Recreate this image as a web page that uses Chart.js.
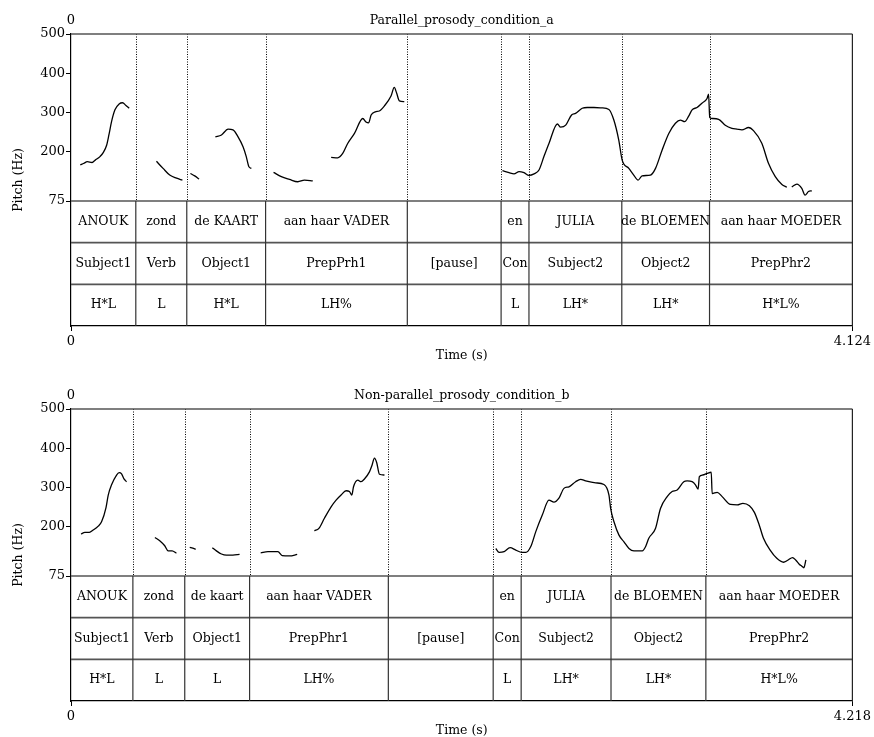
<!DOCTYPE html>
<html>
<head>
<meta charset="utf-8">
<script src="https://cdn.jsdelivr.net/npm/chart.js@4/dist/chart.umd.min.js"></script>
<style>
  html, body { margin: 0; padding: 0; background: #fff; overflow: hidden; }
  .panel { position: absolute; left: 0; width: 874px; height: 375px; }
  #panelA { top: 0; }
  #panelB { top: 375px; }
</style>
</head>
<body>
<div class="panel" id="panelA"><canvas id="chartA" width="874" height="375"></canvas></div>
<div class="panel" id="panelB"><canvas id="chartB" width="874" height="375"></canvas></div>
<script>
/* =========================================================
   DATA
========================================================= */
const PITCH_MIN = 75;
const PITCH_MAX = 500;
const PITCH_TICKS = [75, 200, 300, 400, 500];

// ---- condition a ----
const titleA = "Parallel_prosody_condition_a";
const durationA = 4.124;
const boundsA = [0.342, 0.611, 1.027, 1.775, 2.270, 2.417, 2.907, 3.370];
const wordsA  = ["ANOUK", "zond", "de KAART", "aan haar VADER", "", "en", "JULIA", "de BLOEMEN", "aan haar MOEDER"];
const syntaxA = ["Subject1", "Verb", "Object1", "PrepPrh1", "[pause]", "Con", "Subject2", "Object2", "PrepPhr2"];
const tonesA  = ["H*L", "L", "H*L", "LH%", "", "L", "LH*", "LH*", "H*L%"];

// time (s) / pitch (Hz), null = unvoiced gap
const timeA = [
  .049, .068, .086, .111, .128, .153, .170, .188, .200, .214, .232, .254, .272, .290, .307,
  .38,
  .451, .486, .521, .557, .588,
  .61,
  .630, .653, .676,
  .72,
  .762, .794, .829, .855, .881, .908, .925, .939, .952,
  1.01,
  1.069, 1.110, 1.153, 1.197, 1.232, 1.276,
  1.32,
  1.373, 1.408, 1.434, 1.461, 1.496, 1.540, 1.557, 1.571, 1.584, 1.606, 1.627, 1.654, 1.689, 1.706, 1.719, 1.733, 1.759,
  2.0,
  2.277, 2.312, 2.338, 2.365, 2.391, 2.417, 2.444, 2.470, 2.496, 2.523, 2.567, 2.584, 2.611, 2.642, 2.663, 2.698, 2.725,
  2.76, 2.80, 2.839, 2.865, 2.891, 2.909, 2.944, 2.970, 2.993, 3.014, 3.058, 3.085, 3.120, 3.155, 3.190, 3.216, 3.239,
  3.260, 3.278, 3.304, 3.330, 3.357, 3.365, 3.371, 3.383, 3.418, 3.453, 3.488, 3.515, 3.541, 3.576, 3.602, 3.646, 3.681,
  3.717, 3.752, 3.778,
  3.79,
  3.804, 3.831, 3.857, 3.874, 3.892, 3.910
];
const pitchA = [
  167, 171, 175, 173, 179, 188, 198, 217, 243, 277, 307, 322, 325, 318, 311,
  null,
  176, 158, 141, 133, 128,
  null,
  145, 139, 131,
  null,
  238, 243, 258, 256, 239, 213, 188, 162, 158,
  null,
  148, 137, 130, 124, 128, 126,
  null,
  186, 185, 196, 222, 247, 285, 276, 274, 294, 302, 304, 317, 342, 364, 349, 330, 328,
  null,
  152, 147, 144, 150, 147, 140, 144, 154, 188, 222, 271, 263, 268, 294, 298, 311, 313,
  313, 312, 308, 281, 230, 179, 158, 141, 128, 139, 141, 158, 205, 247, 273, 281, 277,
  291, 307, 313, 324, 336, 347, 288, 285, 283, 268, 260, 258, 256, 262, 254, 222, 171,
  137, 117, 110,
  null,
  111, 118, 107, 90, 99, 101
];

// ---- condition b ----
const titleB = "Non-parallel_prosody_condition_b";
const durationB = 4.218;
const boundsB = [0.334, 0.614, 0.964, 1.713, 2.279, 2.430, 2.915, 3.427];
const wordsB  = ["ANOUK", "zond", "de kaart", "aan haar VADER", "", "en", "JULIA", "de BLOEMEN", "aan haar MOEDER"];
const syntaxB = ["Subject1", "Verb", "Object1", "PrepPhr1", "[pause]", "Con", "Subject2", "Object2", "PrepPhr2"];
const tonesB  = ["H*L", "L", "L", "LH%", "", "L", "LH*", "LH*", "H*L%"];

const timeB = [
  .054, .075, .099, .120, .147, .165, .189, .201, .219, .246, .260, .273, .286, .300,
  .38,
  .453, .479, .506, .524, .546, .569,
  .60,
  .641, .657, .673,
  .72,
  .763, .785, .812, .839, .874, .910,
  .97,
  1.024, 1.063, 1.117, 1.140, 1.180, 1.221,
  1.27,
  1.314, 1.338, 1.368, 1.404, 1.431, 1.458, 1.485, 1.503, 1.516, 1.525, 1.548, 1.566, 1.584, 1.611, 1.625, 1.638, 1.650,
  1.665, 1.692,
  2.0,
  2.293, 2.311, 2.338, 2.370, 2.401, 2.433, 2.455, 2.482, 2.509, 2.544, 2.580, 2.607, 2.634, 2.661, 2.688, 2.724,
  2.751, 2.778, 2.832, 2.877, 2.904, 2.913, 2.931, 2.958, 2.985, 3.012, 3.039, 3.084, 3.102, 3.119, 3.155, 3.182,
  3.218, 3.245, 3.272, 3.308, 3.326, 3.353, 3.371, 3.385, 3.392, 3.410, 3.433, 3.456, 3.461, 3.488, 3.515, 3.560,
  3.596, 3.627, 3.662, 3.689, 3.715, 3.738, 3.774, 3.810, 3.846, 3.869, 3.895, 3.913, 3.931, 3.945, 3.956, 3.967
];
const pitchB = [
  182, 186, 186, 192, 202, 213, 249, 281, 307, 332, 338, 335, 322, 315,
  null,
  173, 165, 152, 139, 139, 133,
  null,
  148, 146, 143,
  null,
  147, 139, 131, 128, 128, 130,
  null,
  134, 137, 137, 127, 126, 130,
  null,
  190, 196, 222, 251, 268, 281, 292, 290, 281, 302, 319, 315, 322, 340, 357, 375, 364,
  334, 332,
  null,
  145, 135, 137, 147, 141, 135, 135, 150, 188, 230, 268, 263, 273, 298, 302, 315,
  321, 317, 312, 308, 281, 247, 213, 179, 162, 145, 139, 139, 150, 171, 196, 247,
  277, 290, 294, 315, 317, 315, 307, 296, 328, 332, 336, 339, 285, 288, 277, 257,
  256, 260, 254, 237, 205, 171, 141, 120, 110, 115, 122, 115, 105, 100, 96, 116
];

/* =========================================================
   STYLE
========================================================= */
const FONT = "'DejaVu Serif', serif";
Chart.defaults.font.family = FONT;
Chart.defaults.font.size = 13;
Chart.defaults.color = "#000";

// tiers take this share of the frame below the pitch box
const TIER_SHARE = 125 / 167;
const Y_BOTTOM = PITCH_MIN - (PITCH_MAX - PITCH_MIN) * TIER_SHARE;

/* =========================================================
   PRAAT-STYLE FRAME + TEXTGRID PLUGIN
========================================================= */
function praatPlugin(title, bounds, tiers) {
  function seg(ctx, x1, y1, x2, y2) {
    ctx.beginPath();
    ctx.moveTo(x1, y1);
    ctx.lineTo(x2, y2);
    ctx.stroke();
  }

  return {
    id: "praat",
    beforeDatasetsDraw(chart) {
      const { ctx, scales: { x, y } } = chart;
      const yTop = y.getPixelForValue(PITCH_MAX);
      const yBase = y.getPixelForValue(PITCH_MIN);
      ctx.save();
      ctx.strokeStyle = "#000";
      ctx.lineWidth = 1;
      ctx.setLineDash([1, 1.5]);
      bounds.forEach(b => {
        const px = Math.round(x.getPixelForValue(b)) + 0.5;
        seg(ctx, px, yTop, px, yBase);
      });
      ctx.restore();
    },
    afterDraw(chart) {
      const { ctx, chartArea: a, scales: { x, y } } = chart;
      const yTop = y.getPixelForValue(PITCH_MAX);
      const yBase = y.getPixelForValue(PITCH_MIN);
      const rowH = (a.bottom - yBase) / tiers.length;

      ctx.save();
      // frame lines
      ctx.strokeStyle = "#555";
      ctx.lineWidth = 1.6;
      seg(ctx, a.left, yTop, a.right, yTop);
      for (let k = 0; k < tiers.length; k++) {
        seg(ctx, a.left, yBase + k * rowH, a.right, yBase + k * rowH);
      }
      ctx.strokeStyle = "#222";
      ctx.lineWidth = 1.2;
      seg(ctx, a.right, yTop, a.right, a.bottom);

      // interval boundaries in the tiers
      ctx.strokeStyle = "#333";
      ctx.lineWidth = 1.2;
      bounds.forEach(b => {
        const px = x.getPixelForValue(b);
        seg(ctx, px, yBase, px, a.bottom);
      });

      // interval labels
      const edges = [x.min, ...bounds, x.max];
      ctx.fillStyle = "#000";
      ctx.font = "12.5px " + FONT;
      ctx.textAlign = "center";
      ctx.textBaseline = "middle";
      tiers.forEach((labels, k) => {
        const cy = yBase + (k + 0.5) * rowH;
        labels.forEach((s, i) => {
          if (!s) return;
          const cx = (x.getPixelForValue(edges[i]) + x.getPixelForValue(edges[i + 1])) / 2;
          ctx.fillText(s, cx, cy);
        });
      });

      // title and start time on top
      ctx.font = "12.5px " + FONT;
      ctx.fillText(title, (a.left + a.right) / 2, 21);
      ctx.font = "13px " + FONT;
      ctx.fillText("0", a.left, 21);
      ctx.restore();
    }
  };
}

/* =========================================================
   BUILD ONE PANEL
========================================================= */
function makePanel(id, title, duration, times, pitch, bounds, tiers) {
  const points = times.map((t, i) => ({ x: t, y: pitch[i] }));

  return new Chart(document.getElementById(id), {
    type: "line",
    data: {
      datasets: [{
        data: points,
        borderColor: "#000",
        borderWidth: 1.3,
        pointRadius: 0,
        spanGaps: false,
        cubicInterpolationMode: "monotone"
      }]
    },
    plugins: [praatPlugin(title, bounds, tiers)],
    options: {
      responsive: false,
      animation: false,
      layout: { padding: { top: 34, right: 20, left: 0, bottom: 0 } },
      plugins: {
        legend: { display: false },
        tooltip: { enabled: false },
        title: { display: false }
      },
      scales: {
        x: {
          type: "linear",
          min: 0,
          max: duration,
          afterBuildTicks: s => { s.ticks = [{ value: 0 }, { value: duration }]; },
          afterFit: s => { s.height = 49; },
          ticks: {
            autoSkip: false,
            maxRotation: 0,
            padding: 3,
            font: { size: 13 },
            callback: v => String(v)
          },
          grid: { drawOnChartArea: false, drawTicks: true, tickLength: 5, color: "#000" },
          border: { display: true, color: "#000", width: 1.2 },
          title: { display: true, text: "Time (s)", font: { size: 12.5 }, padding: { top: 0, bottom: 12 } }
        },
        y: {
          type: "linear",
          min: Y_BOTTOM,
          max: PITCH_MAX,
          afterBuildTicks: s => { s.ticks = PITCH_TICKS.map(v => ({ value: v })); },
          afterFit: s => { s.width = 71; },
          ticks: { padding: 1, font: { size: 13 } },
          grid: { drawOnChartArea: false, drawTicks: true, tickLength: 5, color: "#000" },
          border: { display: true, color: "#000", width: 1.2 },
          title: { display: true, text: "Pitch (Hz)", font: { size: 12.5 }, padding: { top: 11, bottom: 0 } }
        }
      }
    }
  });
}

/* =========================================================
   INIT
========================================================= */
makePanel("chartA", titleA, durationA, timeA, pitchA, boundsA, [wordsA, syntaxA, tonesA]);
makePanel("chartB", titleB, durationB, timeB, pitchB, boundsB, [wordsB, syntaxB, tonesB]);
</script>
</body>
</html>
